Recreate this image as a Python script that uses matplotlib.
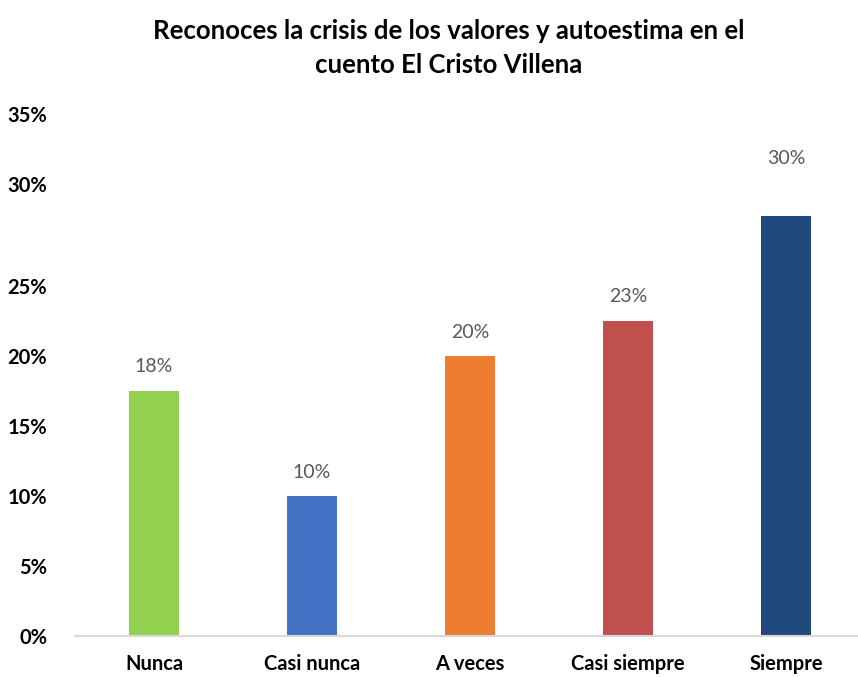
import matplotlib.pyplot as plt

plt.rcParams["font.family"] = ["Lato", "DejaVu Sans"]

categories = ["Nunca", "Casi nunca", "A veces", "Casi siempre", "Siempre"]
values = [17.5, 10.0, 20.0, 22.5, 30.0]
colors = ["#92D050", "#4472C4", "#ED7D31", "#C0504D", "#1F497D"]
tick_vals = [0, 5, 10, 15, 20, 25, 32.3, 37.3]
tick_labels = ["0%", "5%", "10%", "15%", "20%", "25%", "30%", "35%"]

fig = plt.figure(figsize=(8.58, 6.77), dpi=100)
ax = fig.add_axes([75 / 858, 1 - 636 / 677, 790 / 858, 532 / 677])

x = range(len(categories))
bars = ax.bar(x, values, width=0.32, color=colors, zorder=2)

# value labels (last one sits higher in the original)
offsets = [24, 24, 24, 24, 58]
for b, v, off in zip(bars, values, offsets):
    ax.annotate("%d%%" % int(v + 0.5), (b.get_x() + b.get_width() / 2, v),
                xytext=(0, off * 0.72), textcoords="offset points",
                ha="center", va="center", fontsize=14, color="#595959")

ax.set_xlim(-0.5, len(categories) - 0.5)
ax.set_ylim(0, 38)
ax.set_yticks(tick_vals)
ax.set_yticklabels(tick_labels, fontsize=14.5, fontweight="bold")
ax.set_xticks(list(x))
ax.set_xticklabels(categories, fontsize=14.5, fontweight="bold")
ax.tick_params(axis="y", length=0, pad=20)
ax.tick_params(axis="x", length=0, pad=13)

for s in ["top", "right", "left"]:
    ax.spines[s].set_visible(False)
ax.spines["bottom"].set_color("#D9D9D9")
ax.spines["bottom"].set_linewidth(1.5)

fig.text(449 / 858, 1 - 48 / 677,
         "Reconoces la crisis de los valores y autoestima en el\ncuento El Cristo Villena",
         ha="center", va="center", fontsize=18.5, fontweight="bold", linespacing=1.5)

fig.savefig("out.png", dpi=100)
